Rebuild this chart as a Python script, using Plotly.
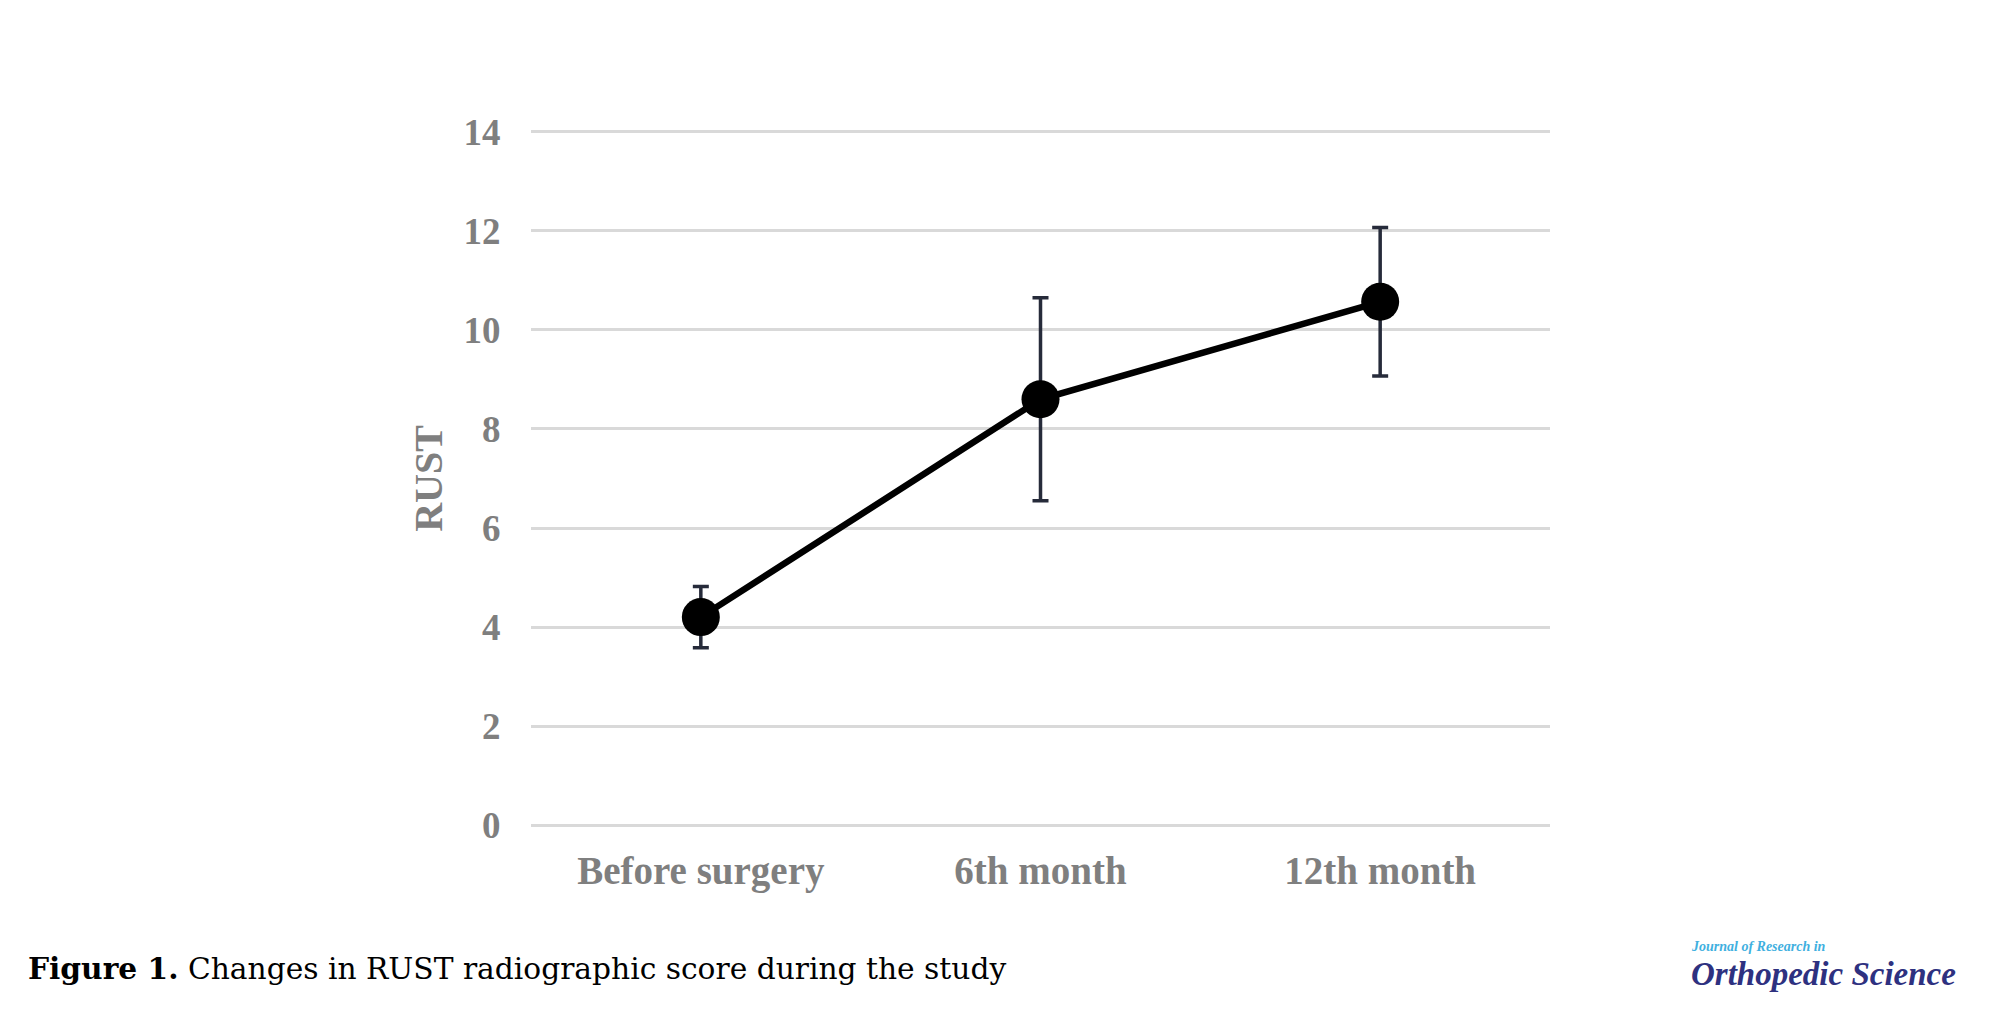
import plotly.graph_objects as go

categories = ["Before surgery", "6th month", "12th month"]
rust_mean = [4.2, 8.6, 10.57]
rust_sd = [0.62, 2.05, 1.5]
y_ticks = [0, 2, 4, 6, 8, 10, 12, 14]

W, H = 1995, 1009
L, R, T, B = 523, 453, 119, 187
pw, ph = W - L - R, H - T - B
Y0, Y1 = -0.1, 14.1

def px(x):
    return (x - L) / pw

def py(y):
    return (H - B - y) / ph

fig = go.Figure()
fig.add_trace(go.Scatter(
    x=categories, y=rust_mean, mode="lines+markers",
    line=dict(color="#000000", width=6.5),
    marker=dict(color="#000000", size=38),
    error_y=dict(type="data", array=rust_sd, visible=True,
                 color="#262b3a", thickness=3.5, width=8),
    showlegend=False, hoverinfo="skip",
))

fig.update_layout(
    width=W, height=H,
    margin=dict(l=L, r=R, t=T, b=B),
    plot_bgcolor="white", paper_bgcolor="white",
    xaxis=dict(range=[-0.5, 2.5], showgrid=False, zeroline=False, showline=False,
               tickvals=categories, ticktext=["<b>%s</b>" % c for c in categories],
               ticks="outside", ticklen=6, tickcolor="rgba(0,0,0,0)",
               tickfont=dict(family="Liberation Serif", size=39, color="#7f7f7f")),
    yaxis=dict(range=[Y0, Y1], tickvals=y_ticks,
               ticktext=["<b>%d</b>" % v for v in y_ticks],
               showgrid=True, gridcolor="#d9d9d9",
               gridwidth=2.5, zeroline=False, showline=False,
               ticks="outside", ticklen=22, tickcolor="rgba(0,0,0,0)",
               tickfont=dict(family="Liberation Serif", size=37, color="#7f7f7f"),
               title=dict(text="<b>RUST</b>", standoff=8,
                          font=dict(family="Liberation Serif", size=40, color="#7f7f7f"))),
    annotations=[
        dict(text="<b>Figure 1.</b> Changes in RUST radiographic score during the study",
             xref="paper", yref="paper", x=px(18), y=py(960), xanchor="left", yanchor="middle",
             showarrow=False, font=dict(family="DejaVu Serif", size=29.7, color="#000000")),
        dict(text="<b><i>Journal of Research in</i></b>",
             xref="paper", yref="paper", x=px(1681), y=py(938), xanchor="left", yanchor="middle",
             showarrow=False, font=dict(family="Liberation Serif", size=14, color="#3fb0e0")),
        dict(text="<b><i>Orthopedic Science</i></b>",
             xref="paper", yref="paper", x=px(1681), y=py(966), xanchor="left", yanchor="middle",
             showarrow=False, font=dict(family="Liberation Serif", size=33, color="#2e3180")),
    ],
)

fig.write_html("out.html")
